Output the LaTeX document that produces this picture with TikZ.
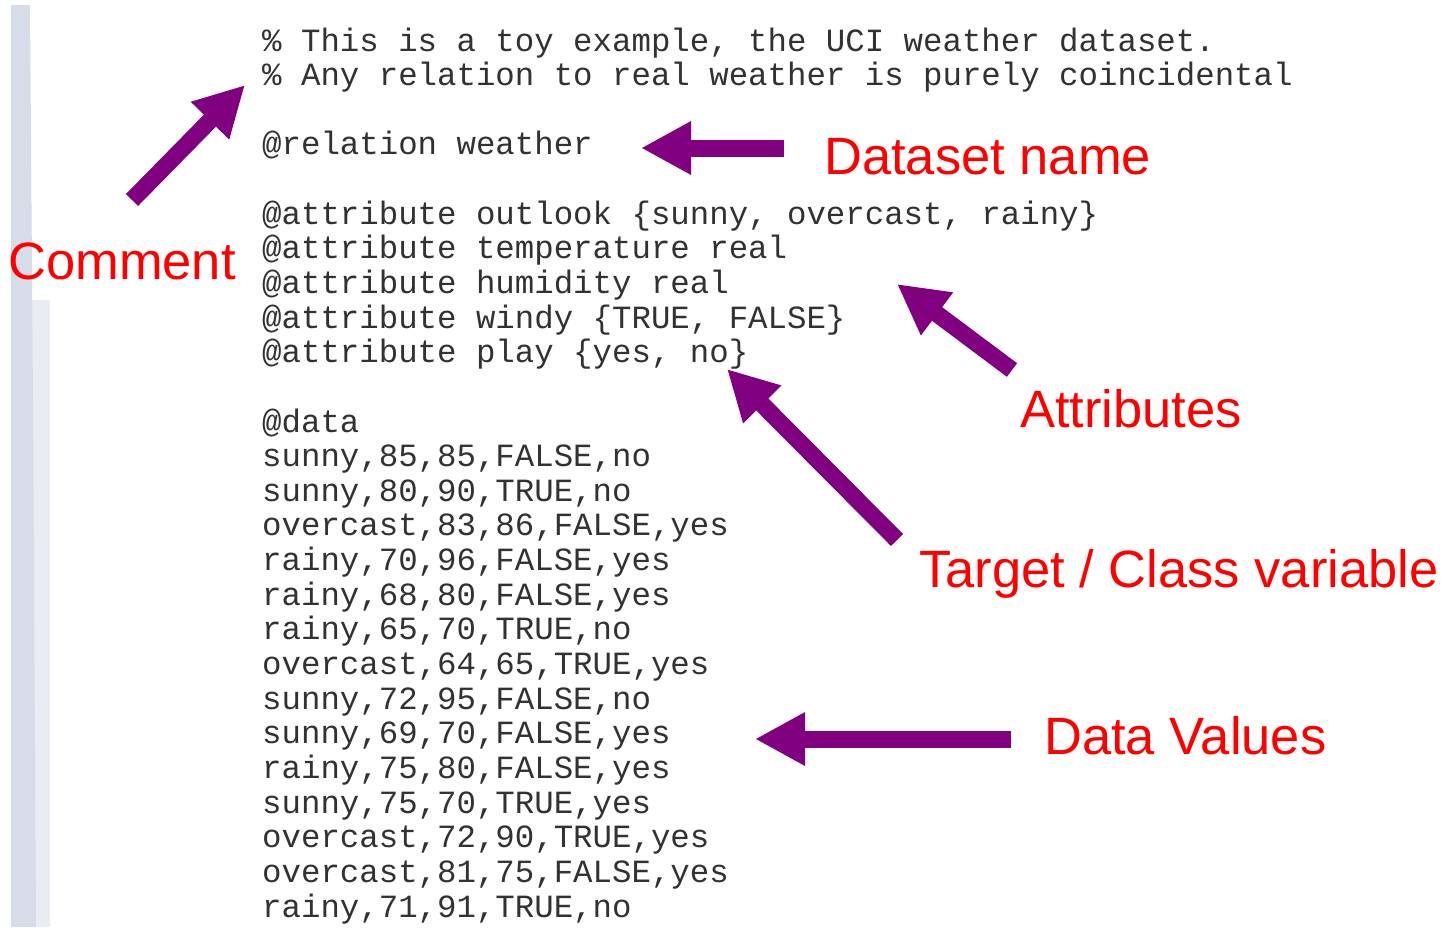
\documentclass[tikz,border=0pt]{standalone}
\usepackage{fontspec}
\usetikzlibrary{arrows.meta}
\newfontfamily\codefont{Liberation Mono}
\newfontfamily\labelfont{Liberation Sans}
\definecolor{arrowpurple}{RGB}{128,0,128}
\definecolor{labelred}{RGB}{255,0,0}
\definecolor{codegray}{RGB}{50,50,50}
\definecolor{stripblue}{RGB}{214,221,233}
\tikzset{
  codeline/.style={anchor=base west,inner sep=0pt,text=codegray,
    font=\codefont\fontsize{32.4}{34.6}\selectfont},
  redlabel/.style={anchor=base west,inner sep=0pt,text=labelred,
    font=\labelfont\fontsize{52.5}{60}\selectfont},
  bigarrow/.style={draw=arrowpurple,line width=17pt,
    -{Triangle[length=50pt,width=50pt]}}
}
\begin{document}
\begin{tikzpicture}[x=1pt,y=-1pt]
  \useasboundingbox (0,0) rectangle (1447,927);
  \fill[white] (0,0) rectangle (1447,927);
  % slide edge
  \fill[stripblue!55] (11,300) -- (50,300) -- (50,927) -- (11,927) -- cycle;
  \fill[stripblue] (11,5) -- (30,5) -- (33,400) -- (36,927) -- (11,927) -- cycle;

  % the arff file
  \foreach \k/\txt in {0/{\% This is a toy example, the UCI weather dataset.},
      1/{\% Any relation to real weather is purely coincidental},
      3/{@relation weather},
      5/{@attribute outlook \{sunny, overcast, rainy\}},
      6/{@attribute temperature real},
      7/{@attribute humidity real},
      8/{@attribute windy \{TRUE, FALSE\}},
      9/{@attribute play \{yes, no\}},
      11/{@data},
      12/{sunny,85,85,FALSE,no},
      13/{sunny,80,90,TRUE,no},
      14/{overcast,83,86,FALSE,yes},
      15/{rainy,70,96,FALSE,yes},
      16/{rainy,68,80,FALSE,yes},
      17/{rainy,65,70,TRUE,no},
      18/{overcast,64,65,TRUE,yes},
      19/{sunny,72,95,FALSE,no},
      20/{sunny,69,70,FALSE,yes},
      21/{rainy,75,80,FALSE,yes},
      22/{sunny,75,70,TRUE,yes},
      23/{overcast,72,90,TRUE,yes},
      24/{overcast,81,75,FALSE,yes},
      25/{rainy,71,91,TRUE,no}}
    \node[codeline] (line\k) at (262,51+34.64*\k) {\txt};

  % labels
  \node[redlabel] (lblcomment) at (8,279) {Comment};
  \node[redlabel] (lblname) at (824,174) {Dataset name};
  \node[redlabel] (lblattr) at (1020,427) {Attributes};
  \node[redlabel] (lbltarget) at (919,587) {Target / Class variable};
  \node[redlabel] (lblvalues) at (1044,754) {Data Values};

  % arrow ends
  \coordinate (cmttail) at (132,200);
  \coordinate (cmttip) at (245,85);
  \coordinate (nametail) at (784,148);
  \coordinate (nametip) at (641,148);
  \coordinate (attrtail) at (1012,370);
  \coordinate (attrtip) at (897,284);
  \coordinate (targettail) at (897,540);
  \coordinate (targettip) at (727,369);
  \coordinate (valuestail) at (1011,739);
  \coordinate (valuestip) at (755,739);

  \draw[bigarrow] (cmttail) -- (cmttip);
  \draw[bigarrow] (nametail) -- (nametip);
  \draw[bigarrow] (attrtail) -- (attrtip);
  \draw[bigarrow] (targettail) -- (targettip);
  \draw[bigarrow] (valuestail) -- (valuestip);
\end{tikzpicture}
\end{document}
